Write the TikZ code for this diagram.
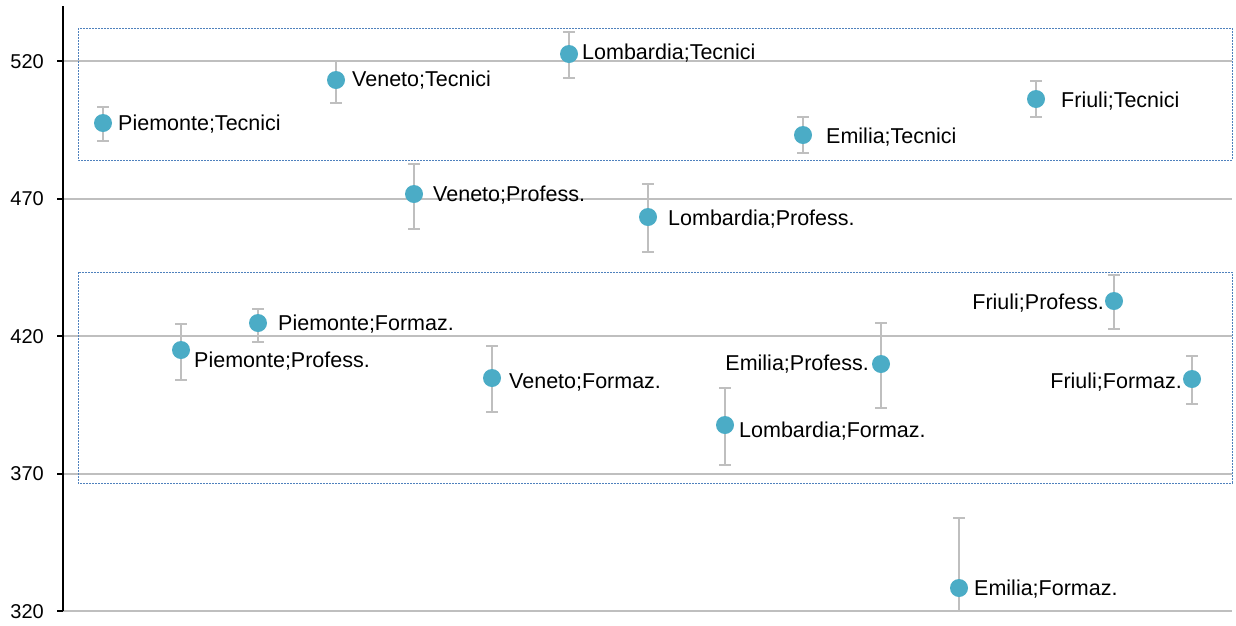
\documentclass[tikz,border=0pt]{standalone}
\usepackage{fontspec}
\setmainfont{Liberation Sans}
\definecolor{gridgray}{RGB}{191,191,191}
\definecolor{errgray}{RGB}{191,191,191}
\definecolor{dotblue}{RGB}{75,172,198}
\definecolor{boxblue}{RGB}{79,129,189}
\begin{document}
\begin{tikzpicture}[x=1pt,y=-1pt,
  gridline/.style={draw=gridgray,line width=2pt},
  axisline/.style={draw=black,line width=2pt},
  groupbox/.style={draw=boxblue,line width=1pt,dash pattern=on 2pt off 1pt},
  errbar/.style={draw=errgray,line width=2pt},
  datadot/.style={circle,fill=dotblue,draw=none,minimum size=18pt,inner sep=0pt},
  datalabel/.style={inner sep=0pt,font=\fontsize{21.5}{24}\selectfont},
  ticklabel/.style={inner sep=0pt,anchor=base east,font=\fontsize{20}{24}\selectfont}]
\useasboundingbox (0,0) rectangle (1236,625);
% gridlines and axis labels
\foreach \v/\yy in {520/61,470/198.5,420/336,370/473.5,320/611}{
  \coordinate (gl\v) at (63,\yy);
  \coordinate (gr\v) at (1232,\yy);
  \coordinate (tk\v) at (57,\yy);
  \draw[gridline] (gl\v) -- (gr\v);
  \node[ticklabel] (t\v) at (44,\yy+7) {\v};
}
% group boxes
\draw[groupbox] (78,28) rectangle (1232,160);
\draw[groupbox] (78,272) rectangle (1232,483);
% axis
\coordinate (axtop) at (63,6);
\coordinate (axbot) at (63,611);
\draw[axisline] (axtop) -- (axbot);
\foreach \v in {520,470,420,370,320}{
  \draw[axisline] (tk\v) -- (gl\v);
}
% data points
\foreach \i/\x/\y/\t/\b/\lab/\side/\lx/\ly in {
  1/103/123/107/141/{Piemonte;Tecnici}/west/118/123,
  2/181/350/324/380/{Piemonte;Profess.}/west/194/360,
  3/258/323/309/342/{Piemonte;Formaz.}/west/278/323,
  4/336/80/61/103/{Veneto;Tecnici}/west/352/79,
  5/414/194/164/229/{Veneto;Profess.}/west/433/194,
  6/492/378/346/412/{Veneto;Formaz.}/west/509/381,
  7/569/54/32/78/{Lombardia;Tecnici}/west/582/52,
  8/648/217/184/252/{Lombardia;Profess.}/west/668/218,
  9/725/425/388/465/{Lombardia;Formaz.}/west/739/430,
  10/803/135/117/153/{Emilia;Tecnici}/west/826/136,
  11/881/364/323/408/{Emilia;Profess.}/east/869/363,
  13/1036/99/81/117/{Friuli;Tecnici}/west/1061/100,
  14/1114/301/275/329/{Friuli;Profess.}/east/1104/302,
  15/1192/379/356/404/{Friuli;Formaz.}/east/1182/381}{
  \coordinate (et\i) at (\x,\t);
  \coordinate (eb\i) at (\x,\b);
  \draw[errbar] (et\i) -- (eb\i);
  \draw[errbar] ([xshift=-6pt]et\i) -- ([xshift=6pt]et\i);
  \draw[errbar] ([xshift=-6pt]eb\i) -- ([xshift=6pt]eb\i);
  \node[datadot] (p\i) at (\x,\y) {};
  \node[datalabel,anchor=base \side] (l\i) at (\lx,\ly+7) {\lab};
}
% Emilia;Formaz. (error bar reaches the axis)
\coordinate (et12) at (959,518);
\coordinate (eb12) at (959,611);
\draw[errbar] (et12) -- (eb12);
\draw[errbar] ([xshift=-6pt]et12) -- ([xshift=6pt]et12);
\node[datadot] (p12) at (959,588) {};
\node[datalabel,anchor=base west] (l12) at (974,595) {Emilia;Formaz.};
\end{tikzpicture}
\end{document}
